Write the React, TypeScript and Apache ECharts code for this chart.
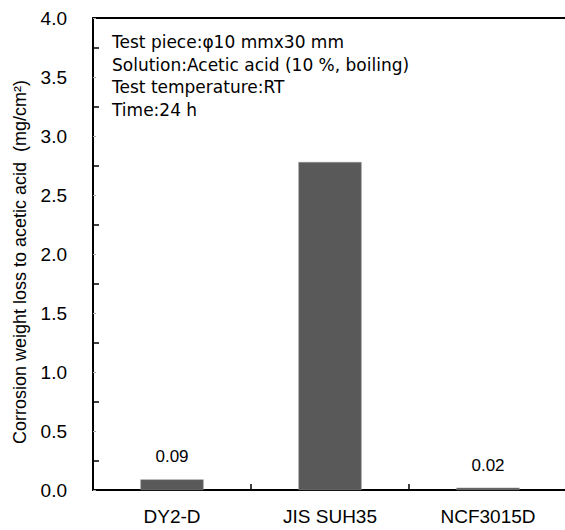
import React, { useEffect, useRef } from "react";
import * as echarts from "echarts";

// Materials tested and their corrosion weight loss (mg/cm²)
const materials = ["DY2-D", "JIS SUH35", "NCF3015D"];
const weightLoss = [0.09, 2.78, 0.02];
const barLabels = ["0.09", "", "0.02"];

// Test conditions printed in the plot corner
const conditions = [
  "Test piece:φ10 mmx30 mm",
  "Solution:Acetic acid (10 %, boiling)",
  "Test temperature:RT",
  "Time:24 h",
];

const yTitle = "Corrosion weight loss to acetic acid  (mg/cm²)";
const FONT = "'Liberation Sans', Arial, 'Noto Sans CJK JP', sans-serif";
const NOTE_FONT = "'DejaVu Sans', 'Noto Sans CJK JP', sans-serif";

export default function App() {
  const ref = useRef<HTMLDivElement>(null);

  useEffect(() => {
    if (!ref.current) return;
    const chart = echarts.init(ref.current, null, { renderer: "svg" });
    chart.setOption({
      animation: false,
      backgroundColor: "#ffffff",
      textStyle: { fontFamily: FONT },
      grid: { left: 93, top: 18, bottom: 40, width: 474, outerBoundsMode: "none" },
      xAxis: [
        {
          type: "category",
          data: materials,
          axisLine: { lineStyle: { color: "#000", width: 2 } },
          axisTick: { show: true, inside: true, length: 6, lineStyle: { color: "#000", width: 1.5 } },
          axisLabel: { color: "#000", fontSize: 19, margin: 17, fontFamily: FONT },
        },
        {
          type: "category",
          position: "top",
          data: materials,
          axisLine: { show: true, lineStyle: { color: "#000", width: 2 } },
          axisTick: { show: false },
          axisLabel: { show: false },
        },
      ],
      yAxis: {
        type: "value",
        min: 0,
        max: 4,
        interval: 0.5,
        name: yTitle,
        nameLocation: "middle",
        nameGap: 64,
        nameTextStyle: { color: "#000", fontSize: 18, fontFamily: FONT, padding: [0, 16, 0, 0] },
        axisLine: { show: true, lineStyle: { color: "#000", width: 2 } },
        axisTick: { show: true, inside: true, length: 3, lineStyle: { color: "#aaa", width: 1 } },
        minorTick: { show: true, splitNumber: 2, length: 6, lineStyle: { color: "#000", width: 1.5 } },
        splitLine: { show: false },
        axisLabel: {
          color: "#000",
          fontSize: 19,
          margin: 26,
          fontFamily: FONT,
          formatter: (v: number) => v.toFixed(1),
        },
      },
      series: [
        {
          type: "bar",
          data: weightLoss.map((v, i) => ({
            value: v,
            label: { show: barLabels[i] !== "", formatter: barLabels[i] },
          })),
          barWidth: "40%",
          itemStyle: { color: "#595959", borderColor: "#9a9a9a", borderWidth: 0.5 },
          label: {
            position: "top",
            distance: 14,
            color: "#000",
            fontSize: 17,
            fontFamily: FONT,
          },
        },
      ],
      graphic: [
        {
          type: "text",
          left: 112,
          top: 31,
          style: {
            text: conditions.join("\n"),
            fill: "#000",
            font: `17px ${NOTE_FONT}`,
            lineHeight: 22.5,
          },
        },
      ],
    });
    return () => chart.dispose();
  }, []);

  return (
    <div
      ref={ref}
      style={{ position: "fixed", left: 0, top: 0, width: 565, height: 530 }}
    />
  );
}
